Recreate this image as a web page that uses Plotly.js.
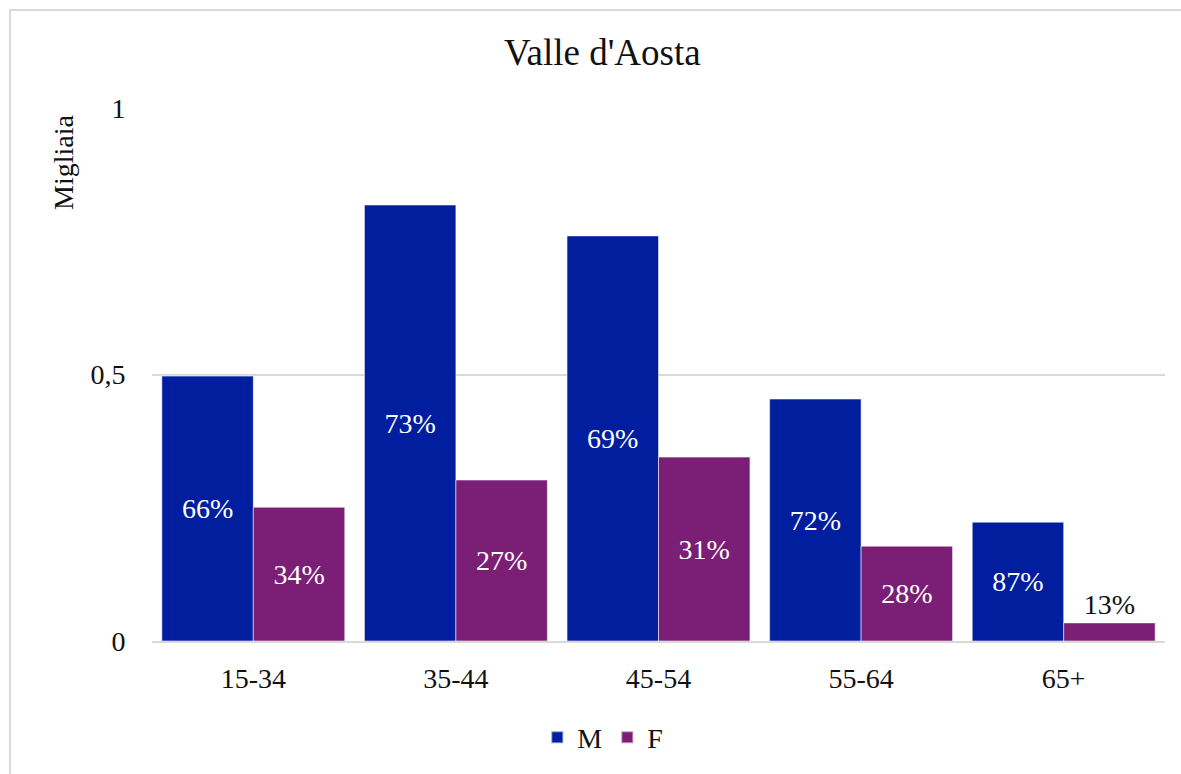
<!DOCTYPE html>
<html>
<head>
<meta charset="utf-8">
<script src="https://cdn.plot.ly/plotly-3.0.1.min.js"></script>
<style>
  html, body { margin: 0; padding: 0; background: #fff; }
  #wrap { position: relative; width: 1181px; height: 774px; overflow: hidden; }
  #chart { position: absolute; left: 0; top: 0; width: 1181px; height: 774px; }
  #frame { position: absolute; left: 9px; top: 9px; width: 1300px; height: 900px;
           border-left: 2px solid #d9d9d9; border-top: 2px solid #d9d9d9; pointer-events: none; }
</style>
</head>
<body>
<div id="wrap">
  <div id="chart"></div>
  <div id="frame"></div>
</div>
<script>
const categories = ['15-34', '35-44', '45-54', '55-64', '65+'];
const valuesM = [0.497, 0.818, 0.760, 0.454, 0.223];
const valuesF = [0.251, 0.302, 0.345, 0.178, 0.034];
const labelsM = ['66%', '73%', '69%', '72%', '87%'];
const labelsF = ['34%', '27%', '31%', '28%', '13%'];
const yTicks = [0, 0.5, 1];
const yTickText = ['0', '0,5', '1'];

const FONT = 'Liberation Serif, Times New Roman, serif';
const colorM = '#001E9E';
const colorF = '#7B1F76';
const FS = 28;

const traceM = {
  type: 'bar', name: 'M', x: categories, y: valuesM,
  text: labelsM, textposition: 'inside', insidetextanchor: 'middle',
  textfont: { family: FONT, size: FS, color: '#ffffff' },
  constraintext: 'none',
  marker: { color: colorM, line: { color: 'rgba(255,255,255,0.55)', width: 1 } },
  hoverinfo: 'none', cliponaxis: false
};
const traceF = {
  type: 'bar', name: 'F', x: categories, y: valuesF,
  text: labelsF,
  textposition: valuesF.map(v => v < 0.1 ? 'outside' : 'inside'),
  insidetextanchor: 'middle',
  textfont: { family: FONT, size: FS, color: valuesF.map(v => v < 0.1 ? '#111111' : '#ffffff') },
  constraintext: 'none',
  marker: { color: colorF, line: { color: 'rgba(255,255,255,0.55)', width: 1 } },
  hoverinfo: 'none', cliponaxis: false
};

const layout = {
  width: 1181, height: 774,
  margin: { l: 152, r: 16, t: 108, b: 133, autoexpand: false },
  paper_bgcolor: 'rgba(0,0,0,0)', plot_bgcolor: 'rgba(0,0,0,0)',
  font: { family: FONT, size: FS, color: '#111111' },
  separators: ', ',
  barmode: 'group', bargap: 0.097, bargroupgap: 0,
  title: { text: "Valle d'Aosta", font: { family: FONT, size: 37, color: '#111111' },
           x: 0.51, xref: 'container', xanchor: 'center', y: 1 - 52 / 774, yref: 'container', yanchor: 'middle' },
  xaxis: {
    type: 'category', showgrid: false, zeroline: false, automargin: false,
    showline: true, linecolor: '#d9d9d9', linewidth: 2,
    ticks: 'outside', ticklen: 11, tickcolor: 'rgba(0,0,0,0)',
    tickfont: { family: FONT, size: FS, color: '#111111' }
  },
  yaxis: {
    range: [0, 1], tickvals: yTicks, ticktext: yTickText, automargin: false,
    showgrid: true, gridcolor: '#d9d9d9', gridwidth: 2,
    zeroline: false, showline: false,
    ticks: 'outside', ticklen: 20, tickcolor: 'rgba(0,0,0,0)',
    tickfont: { family: FONT, size: FS, color: '#111111' }
  },
  showlegend: true,
  legend: { orientation: 'h', x: 0.445, xanchor: 'center', y: -0.181, yanchor: 'middle',
            font: { family: FONT, size: FS, color: '#111111' }, itemsizing: 'constant' },
  annotations: [{
    text: 'Migliaia', xref: 'paper', yref: 'paper',
    x: (63 - 152) / 1013, y: (641 - 163) / 533, xanchor: 'center', yanchor: 'middle',
    textangle: -90, showarrow: false, font: { family: FONT, size: FS, color: '#111111' }
  }]
};

Plotly.newPlot('chart', [traceM, traceF], layout, { staticPlot: true, displayModeBar: false });
</script>
</body>
</html>
